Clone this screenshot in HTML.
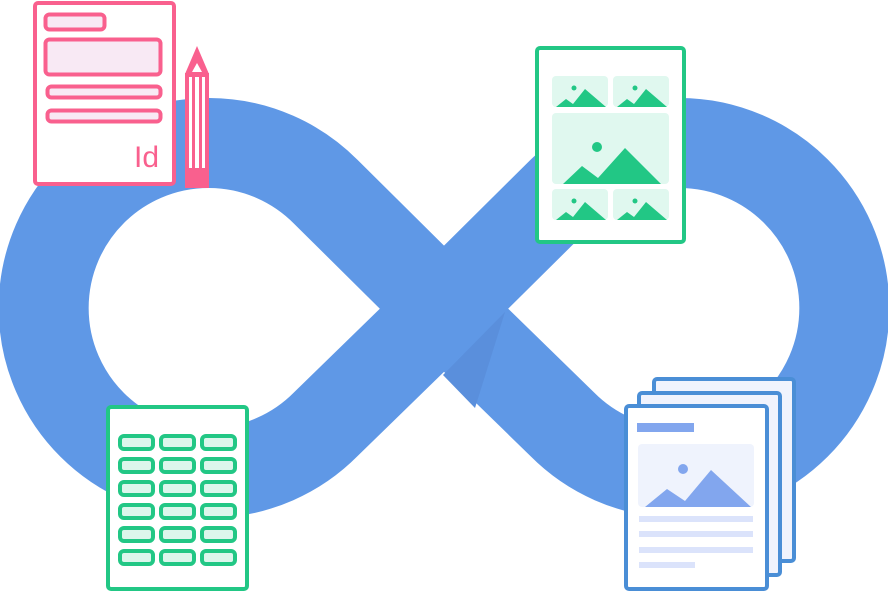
<!DOCTYPE html>
<html><head><meta charset="utf-8"><style>
html,body{margin:0;padding:0;background:#fff;width:888px;height:609px;overflow:hidden}
svg{display:block}
</style></head><body>
<svg width="888" height="609" viewBox="0 0 888 609" xmlns="http://www.w3.org/2000/svg">
<path d="M 444,309 L 326,192 A 165 165 0 1 0 326,424 L 444,309 L 562,192 A 165 165 0 1 1 562,424 Z" fill="none" stroke="#5f98e6" stroke-width="90" stroke-linejoin="round"/>
<polygon points="505,312 443,375 475,408" fill="#5a8fdc"/>

<!-- pink doc -->
<rect x="35" y="3" width="139" height="181" rx="3" fill="#fff" stroke="#f9608e" stroke-width="4"/>
<rect x="45.5" y="14.5" width="59" height="15" rx="4" fill="#f8e9f4" stroke="#f9608e" stroke-width="4"/>
<rect x="45.5" y="39.5" width="115" height="35" rx="4" fill="#f8e9f4" stroke="#f9608e" stroke-width="4"/>
<rect x="47.5" y="86.5" width="113" height="11" rx="4" fill="#f8e9f4" stroke="#f9608e" stroke-width="4"/>
<rect x="47.5" y="110.5" width="113" height="11" rx="4" fill="#f8e9f4" stroke="#f9608e" stroke-width="4"/>
<text x="134" y="167" font-family="Liberation Sans, sans-serif" font-size="30" fill="#f9608e">Id</text>
<!-- pencil -->
<polygon points="197,46 209,74 185,74" fill="#f9608e"/>
<polygon points="197,63 202,72 192,72" fill="#fff"/>
<rect x="187" y="75" width="20" height="111" fill="#fff" stroke="#f9608e" stroke-width="4"/>
<rect x="192" y="76" width="3" height="92" fill="#f9608e"/>
<rect x="199" y="76" width="3" height="92" fill="#f9608e"/>
<rect x="185" y="168" width="24" height="20" rx="1" fill="#f9608e"/>

<!-- green picture card -->
<rect x="537" y="48" width="147" height="194" rx="3" fill="#fff" stroke="#22c785" stroke-width="4"/>
<g fill="#e0f8ef">
<rect x="552" y="76" width="56" height="31" rx="4"/><rect x="613" y="76" width="56" height="31" rx="4"/>
<rect x="552" y="113" width="117" height="71" rx="4"/>
<rect x="552" y="189" width="56" height="31" rx="4"/><rect x="613" y="189" width="56" height="31" rx="4"/>
</g>
<g fill="#22c785">
<circle cx="574" cy="88" r="2.5"/><polygon points="556,107 566,99 573,104 585,89 606,107"/>
<circle cx="635" cy="88" r="2.5"/><polygon points="617,107 627,99 634,104 646,89 667,107"/>
<circle cx="597" cy="147" r="5"/><polygon points="563,184 582,166 598,178 625,148 661,184"/>
<circle cx="574" cy="201" r="2.5"/><polygon points="556,220 566,212 573,217 585,202 606,220"/>
<circle cx="635" cy="201" r="2.5"/><polygon points="617,220 627,212 634,217 646,202 667,220"/>
</g>

<!-- green table card -->
<rect x="108" y="407" width="139" height="182" rx="3" fill="#fff" stroke="#22c785" stroke-width="4"/>
<g fill="#dcf6ec" stroke="#22c785" stroke-width="4">
<rect x="120" y="436" width="33" height="13" rx="4"/><rect x="161" y="436" width="33" height="13" rx="4"/><rect x="202" y="436" width="33" height="13" rx="4"/>
<rect x="120" y="459" width="33" height="13" rx="4"/><rect x="161" y="459" width="33" height="13" rx="4"/><rect x="202" y="459" width="33" height="13" rx="4"/>
<rect x="120" y="482" width="33" height="13" rx="4"/><rect x="161" y="482" width="33" height="13" rx="4"/><rect x="202" y="482" width="33" height="13" rx="4"/>
<rect x="120" y="505" width="33" height="13" rx="4"/><rect x="161" y="505" width="33" height="13" rx="4"/><rect x="202" y="505" width="33" height="13" rx="4"/>
<rect x="120" y="528" width="33" height="13" rx="4"/><rect x="161" y="528" width="33" height="13" rx="4"/><rect x="202" y="528" width="33" height="13" rx="4"/>
<rect x="120" y="551" width="33" height="13" rx="4"/><rect x="161" y="551" width="33" height="13" rx="4"/><rect x="202" y="551" width="33" height="13" rx="4"/>
</g>

<!-- blue pages -->
<rect x="654" y="379" width="140" height="182" rx="3" fill="#f0f3fd" stroke="#4a8ed6" stroke-width="4"/>
<rect x="639" y="393" width="141" height="182" rx="3" fill="#f0f3fd" stroke="#4a8ed6" stroke-width="4"/>
<rect x="626" y="406" width="141" height="183" rx="3" fill="#fff" stroke="#4a8ed6" stroke-width="4"/>
<rect x="637" y="423" width="57" height="9" fill="#82a6ee"/>
<rect x="638" y="444" width="116" height="63" rx="4" fill="#eff3fd"/>
<circle cx="683" cy="469" r="5" fill="#82a6ee"/>
<polygon points="645,507 667,489 685,501 711,470 751,507" fill="#82a6ee"/>
<g fill="#dbe3fb">
<rect x="639" y="516" width="114" height="6"/><rect x="639" y="531" width="114" height="6"/>
<rect x="639" y="547" width="114" height="6"/><rect x="639" y="562" width="56" height="6"/>
</g>
</svg>
</body></html>
